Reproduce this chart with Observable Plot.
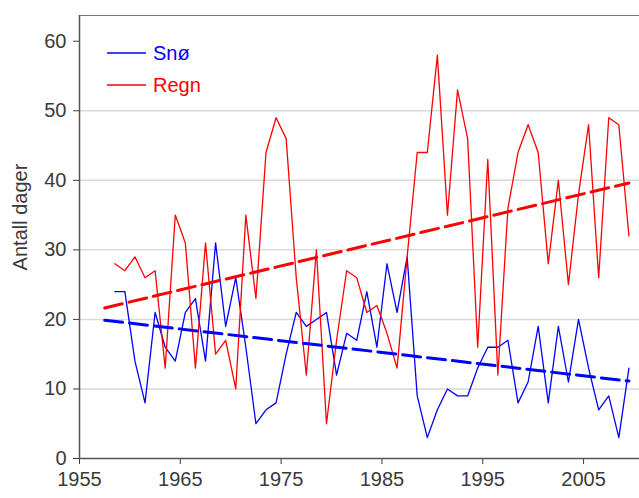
<!DOCTYPE html>
<html><head><meta charset="utf-8">
<script src="https://cdn.jsdelivr.net/npm/d3@7"></script>
<script src="https://cdn.jsdelivr.net/npm/@observablehq/plot@0.6"></script>
<style>
html,body{margin:0;padding:0;background:#fff;}
#wrap{position:relative;width:639px;height:498px;font-family:"Liberation Sans",Arial,sans-serif;}
#overlay{position:absolute;left:0;top:0;pointer-events:none;}
</style></head><body><div id="wrap"></div>
<script>
const years = d3.range(1958, 2010);
const sno = [24,24,14,8,21,16,14,21,23,14, 31,19,26,16,5,7,8,15,21,19, 20,21,12,18,17,24,16,28,21,29, 9,3,7,10,9,9,13,16,16,17, 8,11,19,8,19,11,20,13,7,9, 3,13];
const regn = [28,27,29,26,27,13,35,31,13,31, 15,17,10,35,23,44,49,46,26,12, 30,5,17,27,26,21,22,18,13,29, 44,44,58,35,53,46,16,43,12,36, 44,48,44,28,40,25,38,48,26,49, 48,32];
const seriesNames = ["Snø", "Regn"];
const seriesColors = ["#0000ff", "#ff0000"];
const xTicks = [1955, 1965, 1975, 1985, 1995, 2005];
const yTicks = [0, 10, 20, 30, 40, 50, 60];
const gridValues = [10, 20, 30, 40, 50];
const xDomain = [1955, 2010.55];
const yDomain = [0, 63.7];
const yLabel = "Antall dager";

const rows = years.map((y, i) => ({year: y, sno: sno[i], regn: regn[i]}));

function fit(vals) {
  const mx = d3.mean(years), my = d3.mean(vals);
  const b = d3.sum(years, (y, i) => (y - mx) * (vals[i] - my)) / d3.sum(years, y => (y - mx) ** 2);
  const a = my - b * mx;
  return t => a + b * t;
}
const trendYears = [years[0] - 1, years[years.length - 1]];
const fSno = fit(sno), fRegn = fit(regn);
const trendSno = trendYears.map(y => ({year: y, value: fSno(y)}));
const trendRegn = trendYears.map(y => ({year: y, value: fRegn(y)}));
const xpos = d => d.year + 0.5;

const chart = Plot.plot({
  width: 639, height: 498,
  marginLeft: 79, marginTop: 15, marginBottom: 40, marginRight: 0,
  style: {fontFamily: '"Liberation Sans", Arial, sans-serif', fontSize: "20px", color: "#3a3a3a", background: "#fff", overflow: "visible"},
  x: {domain: xDomain, ticks: xTicks, tickFormat: d => String(d), tickSize: 6, tickPadding: 7, label: null},
  y: {domain: yDomain, ticks: yTicks, tickSize: 6, tickPadding: 7, label: null},
  marks: [
    Plot.ruleY(gridValues, {stroke: "#d9d9d9", strokeWidth: 1.5}),
    Plot.ruleY([yDomain[1]], {stroke: "#777", strokeWidth: 1}),
    Plot.line(rows, {x: xpos, y: "sno", stroke: seriesColors[0], strokeWidth: 1.3}),
    Plot.line(rows, {x: xpos, y: "regn", stroke: seriesColors[1], strokeWidth: 1.3}),
    Plot.line(trendSno, {x: xpos, y: "value", stroke: seriesColors[0], strokeWidth: 3, strokeDasharray: "18,7"}),
    Plot.line(trendRegn, {x: xpos, y: "value", stroke: seriesColors[1], strokeWidth: 3, strokeDasharray: "18,7"}),
    Plot.ruleX([xDomain[0]], {stroke: "#555", strokeWidth: 1.5}),
    Plot.ruleY([0], {stroke: "#555", strokeWidth: 1.5})
  ]
});
const wrap = document.getElementById("wrap");
wrap.appendChild(chart);

// overlay: y-axis title and legend
const ns = "http://www.w3.org/2000/svg";
const ov = document.createElementNS(ns, "svg");
ov.setAttribute("id", "overlay");
ov.setAttribute("width", 639);
ov.setAttribute("height", 498);
const font = '"Liberation Sans", Arial, sans-serif';
const yt = document.createElementNS(ns, "text");
yt.setAttribute("transform", "translate(20,217) rotate(-90)");
yt.setAttribute("text-anchor", "middle");
yt.setAttribute("dominant-baseline", "central");
yt.setAttribute("fill", "#3a3a3a");
yt.setAttribute("font-size", 20);
yt.setAttribute("font-family", font);
yt.textContent = yLabel;
ov.appendChild(yt);
const legY = [53, 85];
seriesNames.forEach((name, i) => {
  const ln = document.createElementNS(ns, "line");
  ln.setAttribute("x1", 107); ln.setAttribute("x2", 146);
  ln.setAttribute("y1", legY[i]); ln.setAttribute("y2", legY[i]);
  ln.setAttribute("stroke", seriesColors[i]); ln.setAttribute("stroke-width", 1.3);
  ov.appendChild(ln);
  const tx = document.createElementNS(ns, "text");
  tx.setAttribute("x", 153); tx.setAttribute("y", legY[i] + 7);
  tx.setAttribute("fill", seriesColors[i]);
  tx.setAttribute("font-size", 20);
  tx.setAttribute("font-family", font);
  tx.textContent = name;
  ov.appendChild(tx);
});
wrap.appendChild(ov);
</script>
</body></html>
